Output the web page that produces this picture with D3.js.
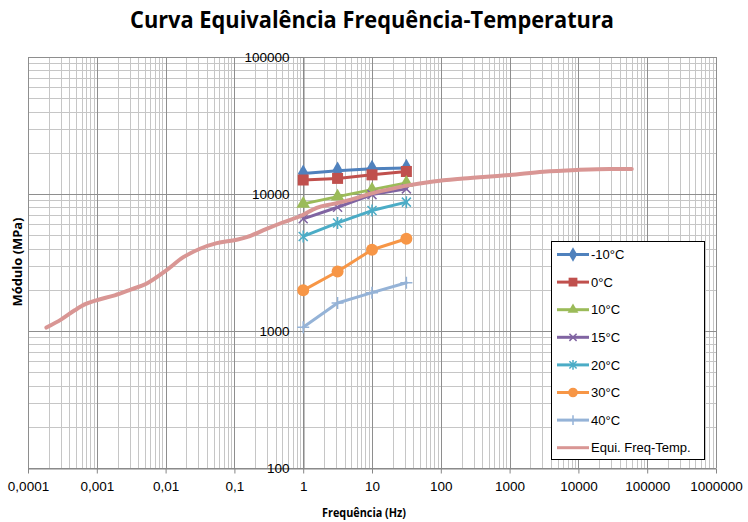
<!DOCTYPE html>
<html>
<head>
<meta charset="utf-8">
<script src="https://cdn.jsdelivr.net/npm/d3@7"></script>
<style>
  html, body { margin: 0; padding: 0; background: #fff; }
  svg { display: block; }
</style>
</head>
<body>
<svg id="chart" width="748" height="522"></svg>
<script>
// Test frequencies (Hz) for the isothermal series
const frequencies = [1, 3.16, 10, 31.6];

// Dynamic modulus (MPa) at each test temperature
const modMinus10 = [14100, 14800, 15300, 15500];
const mod0 = [12650, 13000, 13800, 14600];
const mod10 = [8470, 9570, 10760, 12050];
const mod15 = [6590, 8000, 9900, 10900];
const mod20 = [4900, 6150, 7570, 8720];
const mod30 = [1980, 2720, 3920, 4710];
const mod40 = [1065, 1600, 1905, 2250];

// Master curve (frequency-temperature equivalence)
const masterFreq = [1.85e-4, 3.05e-4, 4.78e-4, 6.67e-4, 9.84e-4, 1.82e-3, 3.17e-3, 5.24e-3,
  0.0102, 0.0181, 0.0316, 0.0553, 0.108, 0.151, 0.294, 0.514, 0.95, 1.57, 2.74, 4.79,
  9.35, 16.4, 31.9, 77.8, 212, 1014, 3090, 9450, 28770, 59600];
const masterMod = [1059, 1216, 1416, 1563, 1674, 1821, 2013, 2213,
  2766, 3458, 3983, 4375, 4631, 4841, 5570, 6220, 6970, 7930, 8470, 9060,
  10020, 10720, 11510, 12360, 12990, 13770, 14550, 14990, 15230, 15230];

const seriesNames = ["-10°C", "0°C", "10°C", "15°C", "20°C", "30°C", "40°C", "Equi. Freq-Temp."];
const seriesColors = ["#4F81BD", "#C0504D", "#9BBB59", "#8064A2", "#4BACC6", "#F79646", "#95B3D7", "#D99694"];
const seriesMarkers = ["diamond", "square", "triangle", "x", "asterisk", "circle", "plus", "none"];

const xTickLabels = ["0,0001", "0,001", "0,01", "0,1", "1", "10", "100", "1000", "10000", "100000", "1000000"];
const yTickLabels = ["100", "1000", "10000", "100000"];

const titleText = "Curva Equivalência Frequência-Temperatura";
const xTitle = "Frequência (Hz)";
const yTitle = "Módulo (MPa)";

const series = [modMinus10, mod0, mod10, mod15, mod20, mod30, mod40].map((vals, i) => ({
  name: seriesNames[i], color: seriesColors[i], marker: seriesMarkers[i],
  points: frequencies.map((f, j) => [f, vals[j]])
}));
series.push({
  name: seriesNames[7], color: seriesColors[7], marker: "none",
  points: masterFreq.map((f, j) => [f, masterMod[j]])
});

const svg = d3.select("#chart");
const plotLeft = 28, plotRight = 716, plotTop = 57, plotBottom = 468;

const x = d3.scaleLog().domain([1e-4, 1e6]).range([plotLeft, plotRight]);
const y = d3.scaleLog().domain([100, 1e5]).range([plotBottom, plotTop]);

const tickFont = "'Liberation Sans', Arial, sans-serif";
const boldFont = "'Open Sans', 'Liberation Sans', sans-serif";

// Grid: minor lines first, decades on top
const isDecade = v => Math.abs(Math.log10(v) - Math.round(Math.log10(v))) < 1e-9;
const xGrid = x.ticks(40);
const yGrid = y.ticks(40);
const grid = svg.append("g");
grid.selectAll("line.xminor").data(xGrid.filter(v => !isDecade(v))).join("line")
  .attr("x1", d => Math.round(x(d)) + 0.5).attr("x2", d => Math.round(x(d)) + 0.5)
  .attr("y1", plotTop).attr("y2", plotBottom).attr("stroke", "#c6c6c6").attr("stroke-width", 1);
grid.selectAll("line.yminor").data(yGrid.filter(v => !isDecade(v))).join("line")
  .attr("y1", d => Math.round(y(d)) + 0.5).attr("y2", d => Math.round(y(d)) + 0.5)
  .attr("x1", plotLeft).attr("x2", plotRight).attr("stroke", "#c6c6c6").attr("stroke-width", 1);
grid.selectAll("line.xmajor").data(xGrid.filter(isDecade)).join("line")
  .attr("x1", d => Math.round(x(d)) + 0.5).attr("x2", d => Math.round(x(d)) + 0.5)
  .attr("y1", plotTop).attr("y2", plotBottom).attr("stroke", "#8e8e8e").attr("stroke-width", 1);
grid.selectAll("line.ymajor").data(yGrid.filter(isDecade)).join("line")
  .attr("y1", d => Math.round(y(d)) + 0.5).attr("y2", d => Math.round(y(d)) + 0.5)
  .attr("x1", plotLeft).attr("x2", plotRight).attr("stroke", "#8e8e8e").attr("stroke-width", 1);

// Axes: x along the bottom, y crossing at 1 Hz
const xDecades = xGrid.filter(isDecade);
const xAxis = d3.axisBottom(x).tickValues(xDecades)
  .tickFormat((d, i) => xTickLabels[i]).tickSize(5).tickSizeOuter(0);
const gx = svg.append("g").attr("transform", `translate(0,${plotBottom + 0.5})`).call(xAxis);
gx.select(".domain").attr("stroke", "#868686");
gx.selectAll(".tick line").attr("stroke", "#868686");
gx.selectAll(".tick text").attr("font-family", tickFont).attr("font-size", 13.5)
  .attr("fill", "#000").attr("dy", "1.05em");

const yDecades = yGrid.filter(isDecade);
const yAxis = d3.axisLeft(y).tickValues(yDecades)
  .tickFormat((d, i) => yTickLabels[i]).tickSize(5).tickSizeOuter(0);
const gy = svg.append("g").attr("transform", `translate(${Math.round(x(1)) + 0.5},0)`).call(yAxis);
gy.select(".domain").attr("stroke", "#868686");
gy.selectAll(".tick line").attr("stroke", "#868686");
gy.selectAll(".tick text").attr("font-family", tickFont).attr("font-size", 13.5)
  .attr("fill", "#000").attr("x", -14);

// Marker drawing
function drawMarker(g, type, color, scale = 1) {
  const k = scale;
  switch (type) {
    case "diamond":
      g.append("path").attr("d", d3.symbol(d3.symbolDiamond, 95 * k * k)()).attr("fill", color);
      break;
    case "square":
      g.append("rect").attr("x", -5.5 * k).attr("y", -5.5 * k).attr("width", 11 * k).attr("height", 11 * k).attr("fill", color);
      break;
    case "triangle":
      g.append("path").attr("d", d3.symbol(d3.symbolTriangle, 80 * k * k)()).attr("fill", color);
      break;
    case "x":
      g.append("path").attr("d", `M${-4.5 * k},${-4.5 * k}L${4.5 * k},${4.5 * k}M${-4.5 * k},${4.5 * k}L${4.5 * k},${-4.5 * k}`)
        .attr("stroke", color).attr("stroke-width", 1.5).attr("fill", "none");
      break;
    case "asterisk":
      g.append("path").attr("d", `M${-4.5 * k},${-4.5 * k}L${4.5 * k},${4.5 * k}M${-4.5 * k},${4.5 * k}L${4.5 * k},${-4.5 * k}M0,${-6 * k}L0,${6 * k}`)
        .attr("stroke", color).attr("stroke-width", 1.5).attr("fill", "none");
      break;
    case "circle":
      g.append("circle").attr("r", 6 * k).attr("fill", color);
      break;
    case "plus":
      g.append("path").attr("d", `M0,${-6 * k}L0,${6 * k}M${-6 * k},0L${6 * k},0`)
        .attr("stroke", color).attr("stroke-width", 1.5).attr("fill", "none");
      break;
  }
}

// Series lines and markers
const straightLine = d3.line().x(d => x(d[0])).y(d => y(d[1]));
const smoothLine = d3.line().x(d => x(d[0])).y(d => y(d[1])).curve(d3.curveMonotoneX);
const plot = svg.append("g");
series.forEach(s => {
  const g = plot.append("g");
  const master = s.marker === "none";
  g.append("path").datum(s.points).attr("d", master ? smoothLine : straightLine)
    .attr("fill", "none").attr("stroke", s.color)
    .attr("stroke-width", master ? 4 : 3).attr("stroke-linejoin", "round").attr("stroke-linecap", "round");
  if (!master) {
    s.points.forEach(p => {
      const m = g.append("g").attr("transform", `translate(${x(p[0])},${y(p[1])})`);
      drawMarker(m, s.marker, s.color);
    });
  }
});

// Legend
const lg = svg.append("g");
lg.append("rect").attr("x", 551.5).attr("y", 241.5).attr("width", 153).attr("height", 218)
  .attr("fill", "#fff").attr("stroke", "#000").attr("stroke-width", 1);
series.forEach((s, i) => {
  const cy = 254.5 + i * 27.6;
  lg.append("line").attr("x1", 557).attr("x2", 589).attr("y1", cy).attr("y2", cy)
    .attr("stroke", s.color).attr("stroke-width", 3);
  if (s.marker !== "none") {
    drawMarker(lg.append("g").attr("transform", `translate(573,${cy})`), s.marker, s.color, 0.8);
  }
  lg.append("text").attr("x", 591).attr("y", cy).attr("dy", "0.36em")
    .attr("font-family", tickFont).attr("font-size", 13).attr("fill", "#000").text(s.name);
});

// Titles
svg.append("text").attr("x", 372).attr("y", 28).attr("text-anchor", "middle")
  .attr("font-family", boldFont).attr("font-weight", "bold").attr("font-size", 24)
  .attr("fill", "#000").attr("textLength", 484).attr("lengthAdjust", "spacingAndGlyphs").text(titleText);

svg.append("text").attr("x", 364).attr("y", 517).attr("text-anchor", "middle")
  .attr("font-family", boldFont).attr("font-weight", "bold").attr("font-size", 13)
  .attr("fill", "#000").attr("textLength", 84).attr("lengthAdjust", "spacingAndGlyphs").text(xTitle);

svg.append("text").attr("transform", "translate(22,262) rotate(-90)").attr("text-anchor", "middle")
  .attr("font-family", boldFont).attr("font-weight", "bold").attr("font-size", 13)
  .attr("fill", "#000").attr("textLength", 89).attr("lengthAdjust", "spacingAndGlyphs").text(yTitle);
</script>
</body>
</html>
